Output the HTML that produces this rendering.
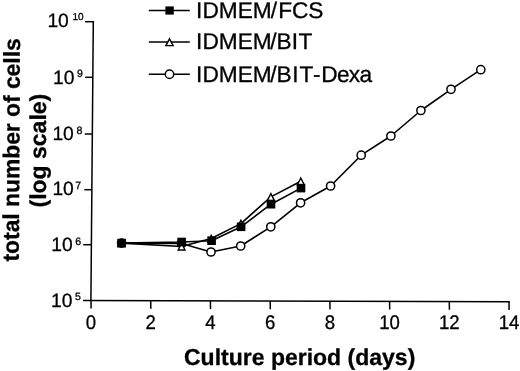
<!DOCTYPE html><html><head><meta charset="utf-8"><title>chart</title><style>html,body{margin:0;padding:0;background:#fff}svg{display:block}text{stroke:#000;stroke-width:0.3px;text-rendering:geometricPrecision;font-family:"Liberation Sans",Arial,sans-serif;fill:#000}</style></head><body>
<svg width="520" height="371" viewBox="0 0 520 371">
<rect width="520" height="371" fill="#fff"/>
<g stroke="#000" stroke-width="1.5" fill="none" stroke-linecap="butt">
<path d="M93.3 21.0 L90.9 300.5"/>
<path d="M83 300.4 L509.8 301.7"/>
<path d="M85 21.7 L93.3 21.7"/>
<path d="M85.2 77.3 L93.0 77.3"/>
<path d="M84.8 134 L92.5 134"/>
<path d="M84.3 189.7 L92.0 189.7"/>
<path d="M83.2 244.7 L91.5 244.7"/>
<path d="M91.0 300.4 L91.1 308.6"/>
<path d="M150.7 300.6 L150.8 308.8"/>
<path d="M210.4 300.8 L210.5 309.0"/>
<path d="M270.2 301.0 L270.3 309.2"/>
<path d="M329.9 301.1 L330.0 309.3"/>
<path d="M389.6 301.3 L389.7 309.5"/>
<path d="M449.3 301.5 L449.4 309.7"/>
<path d="M509.0 301.7 L509.1 309.9"/>
</g>
<text transform="translate(91.0,328.5) scale(1,1.06)" font-size="18.6" text-anchor="middle">0</text>
<text transform="translate(150.7,328.6) scale(1,1.06)" font-size="18.6" text-anchor="middle">2</text>
<text transform="translate(210.4,328.6) scale(1,1.06)" font-size="18.6" text-anchor="middle">4</text>
<text transform="translate(270.2,328.7) scale(1,1.06)" font-size="18.6" text-anchor="middle">6</text>
<text transform="translate(329.9,328.8) scale(1,1.06)" font-size="18.6" text-anchor="middle">8</text>
<text transform="translate(389.6,328.9) scale(1,1.06)" font-size="18.6" text-anchor="middle">10</text>
<text transform="translate(449.3,328.9) scale(1,1.06)" font-size="18.6" text-anchor="middle">12</text>
<text transform="translate(509.0,329.0) scale(1,1.06)" font-size="18.6" text-anchor="middle">14</text>
<text x="47.4" y="26.9" font-size="19.3">10</text>
<text x="72.5" y="19.9" font-size="10">10</text>
<text x="53.0" y="83.9" font-size="19.3">10</text>
<text x="77.0" y="77.1" font-size="10.6">9</text>
<text x="52.4" y="140.0" font-size="19.3">10</text>
<text x="76.5" y="133.7" font-size="10.6">8</text>
<text x="52.4" y="195.3" font-size="19.3">10</text>
<text x="75.3" y="189.1" font-size="10.6">7</text>
<text x="51.3" y="250.7" font-size="19.3">10</text>
<text x="75.3" y="244.5" font-size="10.6">6</text>
<text x="51.0" y="307.0" font-size="19.3">10</text>
<text x="74.9" y="299.8" font-size="10.6">5</text>
<text transform="translate(18.8,261.5) rotate(-89.7)" font-size="23" font-weight="bold" textLength="223.2" lengthAdjust="spacingAndGlyphs">total number of cells</text>
<text transform="translate(46.2,207.5) rotate(-90)" font-size="23" font-weight="bold">(log scale)</text>
<text x="184" y="364.5" font-size="23" font-weight="bold">Culture period (days)</text>
<g stroke="#000" stroke-width="1.6" fill="none" stroke-linejoin="round">
<polyline points="121.6,243.1 181.5,243.5 211.0,252.0 240.7,246.0 270.8,226.8 300.6,202.8 330.6,186.0 361.2,155.2 390.9,136.0 420.9,110.5 451.0,89.3 480.8,69.7"/>
<polyline points="121.6,243.1 181.6,246.5 211.2,238.5 240.9,223.6 270.9,196.9 300.8,181.3"/>
<polyline points="121.6,243.1 181.6,242.0 211.6,240.7 241.1,226.8 271.0,204.2 301.0,188.1"/>
</g>
<g stroke="#000" stroke-width="1.5">
<circle cx="121.6" cy="243.1" r="4.1" fill="#fff"/>
<circle cx="181.5" cy="243.5" r="4.1" fill="#fff"/>
<circle cx="211.0" cy="252.0" r="4.1" fill="#fff"/>
<circle cx="240.7" cy="246.0" r="4.1" fill="#fff"/>
<circle cx="270.8" cy="226.8" r="4.1" fill="#fff"/>
<circle cx="300.6" cy="202.8" r="4.1" fill="#fff"/>
<circle cx="330.6" cy="186.0" r="4.1" fill="#fff"/>
<circle cx="361.2" cy="155.2" r="4.1" fill="#fff"/>
<circle cx="390.9" cy="136.0" r="4.1" fill="#fff"/>
<circle cx="420.9" cy="110.5" r="4.1" fill="#fff"/>
<circle cx="451.0" cy="89.3" r="4.1" fill="#fff"/>
<circle cx="480.8" cy="69.7" r="4.1" fill="#fff"/>
<path d="M121.6 239.8 L125.0 246.6 L118.1 246.6 Z" fill="#fff" stroke-width="1.4"/>
<path d="M181.6 243.2 L185.0 250.0 L178.2 250.0 Z" fill="#fff" stroke-width="1.4"/>
<path d="M211.2 235.2 L214.6 242.0 L207.8 242.0 Z" fill="#fff" stroke-width="1.4"/>
<path d="M240.9 220.3 L244.3 227.1 L237.5 227.1 Z" fill="#fff" stroke-width="1.4"/>
<path d="M270.9 193.6 L274.3 200.4 L267.4 200.4 Z" fill="#fff" stroke-width="1.4"/>
<path d="M300.8 178.0 L304.2 184.8 L297.4 184.8 Z" fill="#fff" stroke-width="1.4"/>
<rect x="117.30" y="238.80" width="8.6" height="8.6" fill="#000" stroke="none"/>
<rect x="177.30" y="237.70" width="8.6" height="8.6" fill="#000" stroke="none"/>
<rect x="207.30" y="236.40" width="8.6" height="8.6" fill="#000" stroke="none"/>
<rect x="236.80" y="222.50" width="8.6" height="8.6" fill="#000" stroke="none"/>
<rect x="266.70" y="199.90" width="8.6" height="8.6" fill="#000" stroke="none"/>
<rect x="296.70" y="183.80" width="8.6" height="8.6" fill="#000" stroke="none"/>
</g>
<path d="M148.8 10.5 L189.8 10.5" stroke="#000" stroke-width="1.5"/>
<rect x="165.4" y="6.4" width="8.4" height="8.2" fill="#000"/>
<text x="196.1" y="17.5" font-size="22.7">IDMEM<tspan dx="-1">/</tspan><tspan dx="1.1" letter-spacing="0">FCS</tspan></text>
<path d="M148.8 42 L189.8 42" stroke="#000" stroke-width="1.5"/>
<path d="M169.5 38.8 L173.1 45.6 L165.9 45.6 Z" fill="#fff" stroke="#000" stroke-width="1.4"/>
<text x="196.1" y="49.2" font-size="22.7">IDMEM<tspan dx="-1.6">/</tspan><tspan letter-spacing="0.3">BIT</tspan></text>
<path d="M148.8 74.25 L189.8 74.25" stroke="#000" stroke-width="1.5"/>
<circle cx="169.5" cy="74.25" r="4.2" fill="#fff" stroke="#000" stroke-width="1.4"/>
<text x="196.1" y="82.4" font-size="22.7">IDMEM<tspan dx="-1.6">/</tspan><tspan letter-spacing="0.8">BIT-</tspan><tspan letter-spacing="-0.7">Dexa</tspan></text>
</svg></body></html>
